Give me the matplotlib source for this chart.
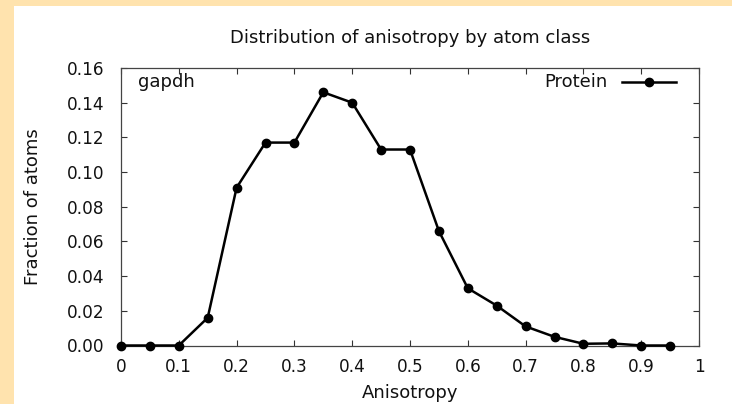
"""Distribution of anisotropy by atom class (gapdh)."""

import matplotlib
matplotlib.use("Agg")
import matplotlib.pyplot as plt
from matplotlib.lines import Line2D
from matplotlib.ticker import FuncFormatter, MultipleLocator

# anisotropy bins and fraction of protein atoms in each
anisotropy = [0.0, 0.05, 0.10, 0.15, 0.20, 0.25, 0.30, 0.35, 0.40, 0.45,
              0.50, 0.55, 0.60, 0.65, 0.70, 0.75, 0.80, 0.85, 0.90, 0.95]
fraction = [0.0, 0.0, 0.0, 0.016, 0.091, 0.117, 0.117, 0.146, 0.140, 0.113,
            0.113, 0.066, 0.033, 0.023, 0.011, 0.005, 0.001, 0.0012, 0.0, 0.0]
series_label = "Protein"
dataset_name = "gapdh"

BG = "#ffe3ae"
TXT = "#111111"
FS_TICK = 12.2
FS_TEXT = 13.0

plt.rcParams["font.family"] = ["DejaVu Sans"]

W, H = 732, 404
fig = plt.figure(figsize=(W / 100, H / 100), dpi=100, facecolor=BG)
# white page area inside the orange border
fig.patches.append(plt.Rectangle((14 / W, 0), 1, 1 - 6 / H, transform=fig.transFigure,
                                 facecolor="white", edgecolor="none", zorder=-10))

ax = fig.add_axes([121 / W, 1 - 345.5 / H, 578 / W, 277.5 / H])
ax.set_zorder(5)
ax.plot(anisotropy, fraction, color="black", lw=1.8, marker="o", ms=6,
        clip_on=False, zorder=3)

ax.set_xlim(0, 1)
ax.set_ylim(0, 0.16)
ax.xaxis.set_major_locator(MultipleLocator(0.1))
ax.yaxis.set_major_locator(MultipleLocator(0.02))
ax.xaxis.set_major_formatter(FuncFormatter(lambda v, p: f"{v:g}"))
ax.yaxis.set_major_formatter(FuncFormatter(lambda v, p: f"{v:.2f}"))
ax.tick_params(direction="in", length=4, width=0.8, top=True, right=True,
               labelsize=FS_TICK, colors="#333333", labelcolor=TXT)
ax.tick_params(axis="x", pad=9)
ax.tick_params(axis="y", pad=12)
for s in ax.spines.values():
    s.set_color("#444444")
    s.set_linewidth(0.9)

fig.text(410 / W, 1 - 38 / H, "Distribution of anisotropy by atom class",
         fontsize=FS_TEXT, ha="center", va="center", color=TXT)
fig.text(410 / W, 1 - 393 / H, "Anisotropy",
         fontsize=FS_TEXT, ha="center", va="center", color=TXT)
fig.text(33 / W, 1 - 207 / H, "Fraction of atoms", rotation=90,
         fontsize=FS_TEXT, ha="center", va="center", color=TXT)

ky = 1 - 14 / 277.5
ax.text(17 / 578, ky, dataset_name, transform=ax.transAxes,
        fontsize=FS_TEXT, va="center", ha="left", color=TXT)

# gnuplot-style key: label then sample line
ax.text(487 / 578, ky, series_label, transform=ax.transAxes,
        fontsize=FS_TEXT, va="center", ha="right", color=TXT)
ax.add_line(Line2D([501 / 578, 555 / 578], [ky, ky], transform=ax.transAxes,
                   color="black", lw=1.8))
ax.add_line(Line2D([528 / 578], [ky], transform=ax.transAxes,
                   color="black", marker="o", ms=6))

fig.savefig("out.png", dpi=100, facecolor=BG)
